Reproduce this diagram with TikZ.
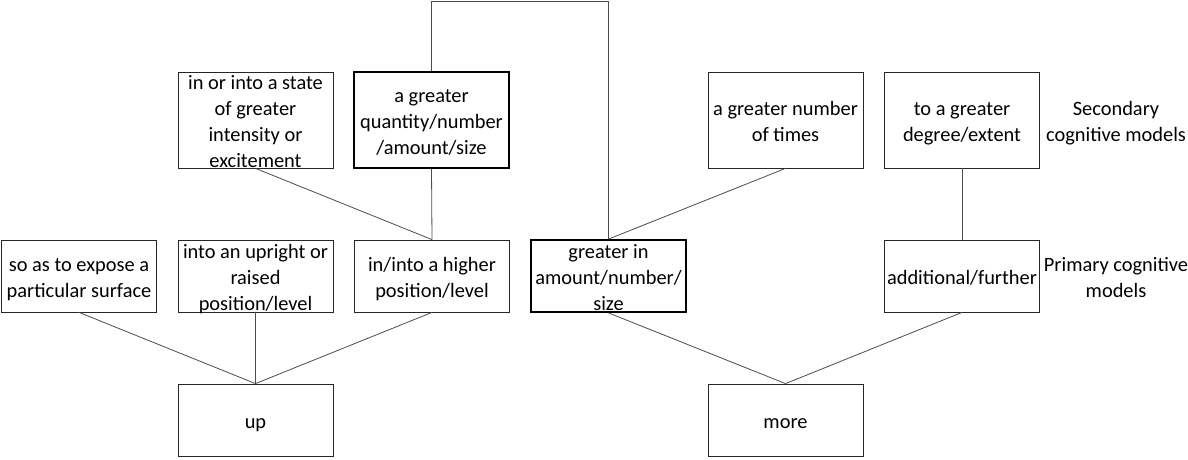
\documentclass[tikz,border=0pt]{standalone}
\usepackage{fontspec}
\setmainfont{Carlito}
\usetikzlibrary{positioning}
\newcommand{\mtext}[1]{\strut#1\strut}
\tikzset{
  model/.style={draw=black!85, line width=0.8pt, minimum width=155pt, inner sep=0pt},
  lowbox/.style={model, minimum height=72pt},
  highbox/.style={model, minimum height=96pt},
  boldbox/.style={draw=black, line width=1.8pt},
  boxtext/.style={align=center, inner sep=0pt, yshift=-3pt, font=\fontsize{20.4pt}{26pt}\selectfont},
  link/.style={draw=black!70, line width=0.8pt},
}
\begin{document}
\begin{tikzpicture}[x=1pt, y=1pt]
    \useasboundingbox (0,0) rectangle (1188,459);
    \coordinate (top) at (0,458);
    % primary cognitive models
    \node[lowbox, label={[boxtext]center:{\mtext{so as to expose a\\particular surface}}}] (expose) at (79,183) {};
    \node[lowbox, label={[boxtext]center:{\mtext{into an upright or\\raised\\position/level}}}] (upright) at (255.5,183) {};
    \node[lowbox, label={[boxtext]center:{\mtext{in/into a higher\\position/level}}}] (higher) at (432,183) {};
    \node[lowbox, boldbox, label={[boxtext]center:{\mtext{greater in\\amount/number/\\size}}}] (amount) at (608.5,183) {};
    \node[lowbox, label={[boxtext]center:{\mtext{additional/further}}}] (further) at (962,183) {};
    % secondary cognitive models
    \node[highbox, label={[boxtext]center:{\mtext{in or into a state\\of greater\\intensity or\\excitement}}}] (state) at (255.5,339) {};
    \node[highbox, boldbox, label={[boxtext]center:{\mtext{a greater\\quantity/number\\/amount/size}}}] (quantity) at (431.5,339) {};
    \node[highbox, label={[boxtext]center:{\mtext{a greater number\\of times}}}] (times) at (785.5,339) {};
    \node[highbox, label={[boxtext]center:{\mtext{to a greater\\degree/extent}}}] (degree) at (962,339) {};
    % words
    \node[lowbox, label={[boxtext]center:{\mtext{up}}}] (up) at (255.5,39) {};
    \node[lowbox, label={[boxtext]center:{\mtext{more}}}] (more) at (785.5,39) {};
    \node[boxtext] (secondary) at (1116,339) {\mtext{Secondary\\cognitive models}};
    \node[boxtext] (primary) at (1116,183) {\mtext{Primary cognitive\\models}};
    % links
    \draw[link] (expose.south) -- (up.north);
    \draw[link] (upright.south) -- (up.north);
    \draw[link] (higher.south) -- (up.north);
    \draw[link] (state.south) -- (higher.north);
    \draw[link] (quantity.south) -- (higher.north);
    \draw[link] (quantity.north) -- (quantity.north |- top) -| (amount.north);
    \draw[link] (times.south) -- (amount.north);
    \draw[link] (degree.south) -- (further.north);
    \draw[link] (amount.south) -- (more.north);
    \draw[link] (further.south) -- (more.north);
\end{tikzpicture}
\end{document}
